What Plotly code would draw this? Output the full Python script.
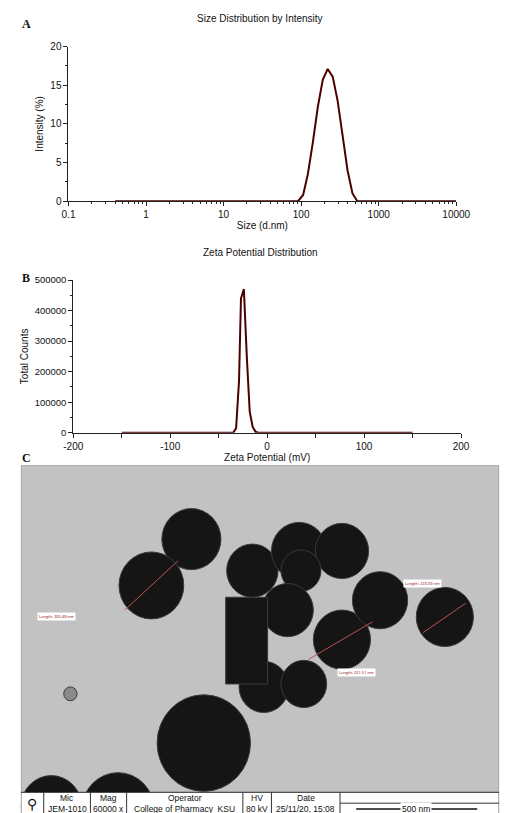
import plotly.graph_objects as go

# A: size distribution
size_nm = [0.4, 1, 10, 91, 106, 122, 141, 164, 190, 220, 255, 295, 342, 396, 459, 531, 1000, 10000]
intensity = [0, 0, 0, 0, 0.8, 3.5, 7.5, 12.2, 15.7, 17.1, 16.1, 13.0, 8.5, 4.0, 1.0, 0, 0, 0]
# B: zeta potential
zeta_mv = [-150, -35, -32, -29, -27, -24, -21, -18, -15, -12, -9, 150]
counts = [0, 0, 15000, 170000, 440000, 470000, 250000, 70000, 20000, 3000, 0, 0]
zeta_ticks = [-200, -100, 0, 100, 200]
zeta_ticktext = ["-200", "-100", "0", "100", "200"]
# C: TEM particles (pixel-space centre x, y, radius)
px = [182, 140, 246, 295, 340, 297, 283, 340, 380, 448, 258, 300, 195, 35, 105, 55]
py = [533, 580, 565, 545, 545, 565, 605, 635, 595, 612, 683, 680, 740, 805, 808, 690]
pr = [31, 34, 27, 29, 28, 21, 27, 30, 29, 30, 26, 24, 49, 32, 38, 7]
info_heads = ["Mic", "Mag", "Operator", "HV", "Date"]
info_vals = ["JEM-1010", "60000 x", "College of Pharmacy  KSU", "80 kV", "25/11/20, 15:08"]

W, H = 508, 813
line_col = "#4a0000"
fig = go.Figure()
fig.add_trace(go.Scatter(x=size_nm, y=intensity, mode="lines", line=dict(color=line_col, width=2), xaxis="x", yaxis="y"))
fig.add_trace(go.Scatter(x=zeta_mv, y=counts, mode="lines", line=dict(color=line_col, width=2), xaxis="x2", yaxis="y2"))
fig.add_trace(go.Scatter(x=[None], y=[None], xaxis="x3", yaxis="y3"))

fnt = dict(family="Liberation Sans, Arial", size=10, color="#111")
ax_common = dict(showline=True, linecolor="#222", ticks="outside", ticklen=4, tickcolor="#222",
                 showgrid=False, zeroline=False, tickfont=fnt, title_font=fnt)
def py2p(v):
    return 1 - v / H

fig.update_layout(
    width=W, height=H, margin=dict(l=0, r=0, t=0, b=0), showlegend=False,
    paper_bgcolor="white", plot_bgcolor="white",
    xaxis=dict(ax_common, type="log", range=[-1, 4], domain=[53/W, 460/W], anchor="y",
               tickvals=[0.1, 1, 10, 100, 1000, 10000], ticktext=["0.1", "1", "10", "100", "1000", "10000"],
               minor=dict(ticks="outside", ticklen=2, dtick="D1", tickcolor="#222"),
               title=dict(text="Size (d.nm)", standoff=2)),
    yaxis=dict(ax_common, range=[0, 20], domain=[py2p(190), py2p(33)], anchor="x", dtick=5,
               minor=dict(ticks="outside", ticklen=2, dtick=2.5, tickcolor="#222"),
               title=dict(text="Intensity (%)", standoff=4)),
    xaxis2=dict(ax_common, range=[-200, 200], domain=[58/W, 465/W], anchor="y2",
                tickvals=zeta_ticks, ticktext=zeta_ticktext,
                minor=dict(ticks="outside", ticklen=4, dtick=50, tickcolor="#222"),
                title=dict(text="Zeta Potential (mV)", standoff=2)),
    yaxis2=dict(ax_common, range=[0, 500000], domain=[py2p(425), py2p(270)], anchor="x2", dtick=100000,
                tickformat="d", tickfont=dict(family="Liberation Sans, Arial", size=9.5, color="#111"),
                minor=dict(ticks="outside", ticklen=2, dtick=50000, tickcolor="#222"),
                title=dict(text="Total Counts", standoff=4)),
    xaxis3=dict(range=[3, 505], domain=[3/W, 505/W], anchor="y3", visible=False),
    yaxis3=dict(range=[813, 458], domain=[0, py2p(458)], anchor="x3", visible=False),
)

for a in [dict(text="Size Distribution by Intensity", x=0.5, y=py2p(5)),
          dict(text="Zeta Potential Distribution", x=0.5, y=py2p(242))]:
    fig.add_annotation(xref="paper", yref="paper", showarrow=False, font=fnt, yanchor="middle", **a)
for lab, yy in [("A", 10), ("B", 268), ("C", 451)]:
    fig.add_annotation(xref="paper", yref="paper", x=2/W, y=py2p(yy), xanchor="left", yanchor="middle",
                       text=f"<b>{lab}</b>", showarrow=False,
                       font=dict(family="Liberation Serif", size=12, color="#111"))

# TEM background
fig.add_shape(type="rect", xref="x3", yref="y3", x0=3, x1=505, y0=458, y1=790,
              fillcolor="#c2c2c2", line=dict(color="#888", width=1), layer="below")
for x, y, r in zip(px, py, pr):
    col = "#8a8a8a" if r < 10 else "#151515"
    fig.add_shape(type="circle", xref="x3", yref="y3", x0=x-r, x1=x+r, y0=y-r, y1=y+r,
                  fillcolor=col, line=dict(color="#3a3a3a", width=1))
fig.add_shape(type="rect", xref="x3", yref="y3", x0=218, x1=262, y0=592, y1=680,
              fillcolor="#151515", line=dict(color="#3a3a3a", width=1))
for (x0, y0, x1, y1) in [(112, 605, 168, 555), (305, 655, 372, 617), (425, 628, 470, 598)]:
    fig.add_shape(type="line", xref="x3", yref="y3", x0=x0, y0=y0, x1=x1, y1=y1, line=dict(color="#c05050", width=1))
for t, x, y in [("Length: 265.48 nm", 40, 612), ("Length: 221.51 nm", 355, 668), ("Length: 223.39 nm", 425, 578)]:
    fig.add_annotation(xref="x3", yref="y3", x=x, y=y, text=t, showarrow=False,
                       font=dict(size=4, color="#8b0000"), bgcolor="white")

# info bar
fig.add_shape(type="rect", xref="x3", yref="y3", x0=3, x1=505, y0=790, y1=813,
              fillcolor="white", line=dict(color="#333", width=1))
edges = [3, 27, 76, 114, 236, 266, 338, 505]
for e in edges[1:-1]:
    fig.add_shape(type="line", xref="x3", yref="y3", x0=e, x1=e, y0=790, y1=813, line=dict(color="#333", width=1))
fig.add_shape(type="line", xref="x3", yref="y3", x0=338, x1=505, y0=801, y1=801, line=dict(color="#333", width=1))
ifnt = dict(family="Liberation Sans, Arial", size=8.5, color="#111")
for i, (h, v) in enumerate(zip(info_heads, info_vals)):
    cx = (edges[i+1] + edges[i+2]) / 2
    fig.add_annotation(xref="x3", yref="y3", x=cx, y=796, text=h, showarrow=False, font=ifnt)
    fig.add_annotation(xref="x3", yref="y3", x=cx, y=806.5, text=v, showarrow=False, font=ifnt)
fig.add_annotation(xref="x3", yref="y3", x=15, y=801, text="⚲", showarrow=False, font=dict(size=14, color="#111"))
fig.add_shape(type="line", xref="x3", yref="y3", x0=355, x1=482, y0=807, y1=807, line=dict(color="#111", width=1.5))
fig.add_annotation(xref="x3", yref="y3", x=418, y=807, text="500 nm", showarrow=False, font=ifnt, bgcolor="white")

fig.write_html("out.html")
